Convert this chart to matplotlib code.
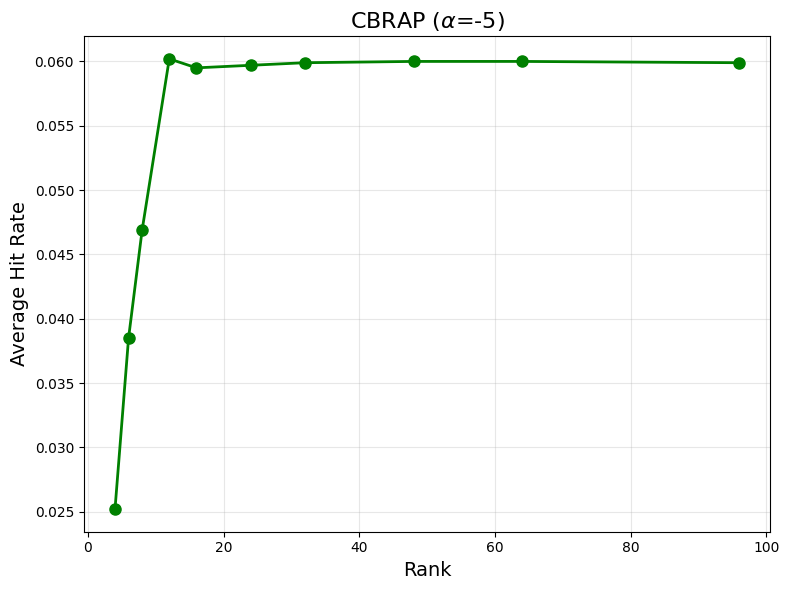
import matplotlib
matplotlib.use("Agg")
import matplotlib.pyplot as plt

ranks = [4, 6, 8, 12, 16, 24, 32, 48, 64, 96]
hit_rate = [0.0252, 0.0385, 0.0469, 0.0602, 0.0595, 0.0597, 0.0599, 0.0600, 0.0600, 0.0599]

fig = plt.figure(figsize=(8, 6), dpi=100)
plt.plot(ranks, hit_rate, marker='o', color='green', linewidth=2, markersize=8)
plt.title(r"CBRAP ($\alpha$=-5)", fontsize=16)
plt.xlabel("Rank", fontsize=14)
plt.ylabel("Average Hit Rate", fontsize=14)
plt.grid(True, alpha=0.3)
plt.tight_layout()
plt.savefig("out.png", dpi=100, bbox_inches='tight')
